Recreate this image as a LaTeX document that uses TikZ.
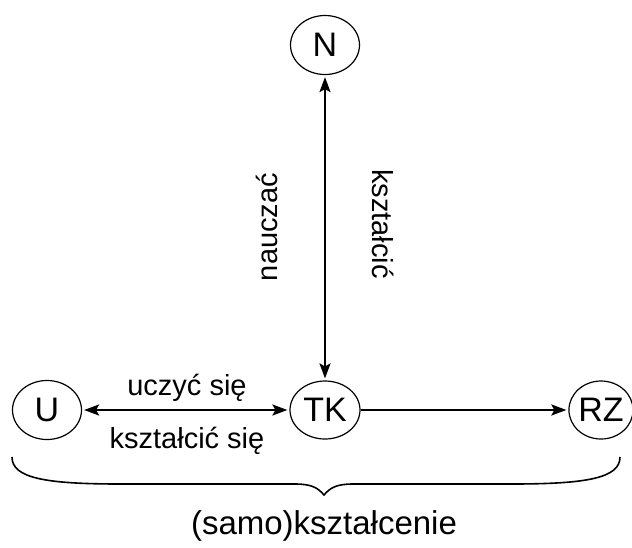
\documentclass[tikz,border=0pt]{standalone}
\usepackage{fontspec}
\setmainfont{Liberation Sans}
\usetikzlibrary{arrows.meta,shapes.geometric}
\begin{document}
\begin{tikzpicture}[x=1pt,y=-1pt,
  nd/.style={draw,ellipse,inner sep=0pt,line width=1.2pt,font=\fontsize{34}{36}\selectfont},
  arr/.style={line width=2.2pt,-{Stealth[length=15pt,width=11pt,inset=3pt]},shorten >=2pt},
  barr/.style={line width=2.2pt,{Stealth[length=15pt,width=11pt,inset=3pt]}-{Stealth[length=15pt,width=11pt,inset=3pt]},shorten >=2pt,shorten <=2pt},
  lbl/.style={font=\fontsize{29}{32}\selectfont,anchor=base}]
\useasboundingbox (0,0) rectangle (632,547);
\node[nd,minimum width=69pt,minimum height=59pt] (N) at (325,45) {N};
\node[nd,minimum width=70pt,minimum height=58pt] (TK) at (325,410) {TK};
\node[nd,minimum width=69pt,minimum height=59pt] (U) at (47,410) {U};
\node[nd,minimum width=62pt,minimum height=58pt] (RZ) at (601,410) {RZ};
\draw[barr] (TK) -- (N);
\draw[barr] (U) -- (TK);
\draw[arr] (TK) -- (RZ);
\node[lbl] (l1) at (187,395) {uczyć się};
\node[lbl] (l2) at (187,448) {kształcić się};
\node[lbl,rotate=90,anchor=center] (l3) at (267,227) {nauczać};
\node[lbl,rotate=-90,anchor=center] (l4) at (383,224) {kształcić};
\coordinate (b1) at (12,457);
\coordinate (b2) at (620,457);
\coordinate (bt) at (324,495);
\draw[line width=1.6pt] (b1) .. controls (12,478) and (45,484) .. (120,484)
  -- (295,484) .. controls (312,484) and (318,488) .. (bt)
  .. controls (330,488) and (336,484) .. (353,484)
  -- (512,484) .. controls (587,484) and (620,478) .. (b2);
\node[lbl,font=\fontsize{33}{36}\selectfont] (l5) at (324,534) {(samo)kształcenie};
\end{tikzpicture}
\end{document}
